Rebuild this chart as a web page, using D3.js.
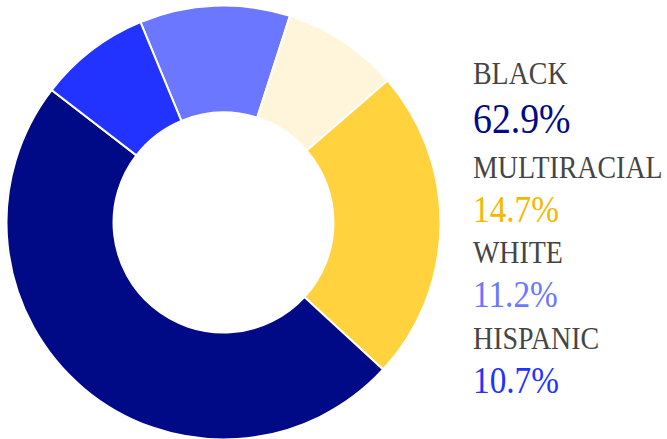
<!DOCTYPE html>
<html>
<head>
<meta charset="utf-8">
<script src="https://cdn.jsdelivr.net/npm/d3@7"></script>
<style>
	body { margin: 0; background: #fff; }
	svg { display: block; }
	.legend-label { font-family: 'Liberation Serif', 'DejaVu Serif', serif; fill: #454545; }
	.legend-value { font-family: 'Liberation Serif', 'DejaVu Serif', serif; }
</style>
</head>
<body>
<div id="chart"></div>
<script>
// Donut slices, clockwise from the top-left edge
var sliceNames = ['White', 'Other', 'Multiracial', 'Black', 'Hispanic'];
var sliceValues = [11.2, 8.7, 23.2, 48.6, 8.3];
var sliceColors = ['#6c77ff', '#fff5da', '#ffd23e', '#000a87', '#2233ff'];

// Legend
var legendLabels = ['BLACK', 'MULTIRACIAL', 'WHITE', 'HISPANIC'];
var legendValues = [62.9, 14.7, 11.2, 10.7];
var legendColors = ['#000a87', '#f5b700', '#6c77ff', '#2233ff'];

var width = 667;
var height = 439;

var render = function() {
	var svg = d3.select('#chart')
		.append('svg')
		.attr('width', width)
		.attr('height', height);

	/*
	 * Donut
	 */
	var cx = 223.5;
	var cy = 222.5;
	var outerRadius = 217;
	var innerRadius = 110;

	var pie = d3.pie()
		.sort(null)
		.value(function(d) { return d.value; })
		.startAngle(-22.5 * Math.PI / 180)
		.endAngle(337.5 * Math.PI / 180);

	var arc = d3.arc()
		.innerRadius(innerRadius)
		.outerRadius(outerRadius);

	var data = sliceNames.map(function(name, i) {
		return { name: name, value: sliceValues[i], color: sliceColors[i] };
	});

	svg.append('g')
		.attr('transform', 'translate(' + cx + ',' + cy + ')')
		.selectAll('path')
		.data(pie(data))
		.enter()
		.append('path')
		.attr('d', arc)
		.attr('fill', function(d) { return d.data.color; })
		.attr('stroke', '#fff')
		.attr('stroke-width', 2);

	/*
	 * Legend (condensed serif, squeezed a bit horizontally)
	 */
	var legendX = 473;
	var squeeze = 0.9;
	var labelY = function(i) { return 84 + i * 85.5 + (i > 0 ? 8 : 0); };
	var valueY = function(i) { return labelY(i) + (i === 0 ? 49 : 44); };

	var legend = svg.append('g').attr('class', 'legend');

	legend.selectAll('text.legend-label')
		.data(legendLabels)
		.enter()
		.append('text')
		.attr('class', 'legend-label')
		.attr('transform', function(d, i) {
			return 'translate(' + legendX + ',' + labelY(i) + ') scale(' + squeeze + ',1)';
		})
		.attr('font-size', 31)
		.text(function(d) { return d; });

	legend.selectAll('text.legend-value')
		.data(legendValues)
		.enter()
		.append('text')
		.attr('class', 'legend-value')
		.attr('transform', function(d, i) {
			return 'translate(' + legendX + ',' + valueY(i) + ') scale(' + squeeze + ',1)';
		})
		.attr('font-size', function(d, i) { return i === 0 ? 42 : 37; })
		.attr('fill', function(d, i) { return legendColors[i]; })
		.text(function(d) { return d.toFixed(1) + '%'; });
};

render();
</script>
</body>
</html>
